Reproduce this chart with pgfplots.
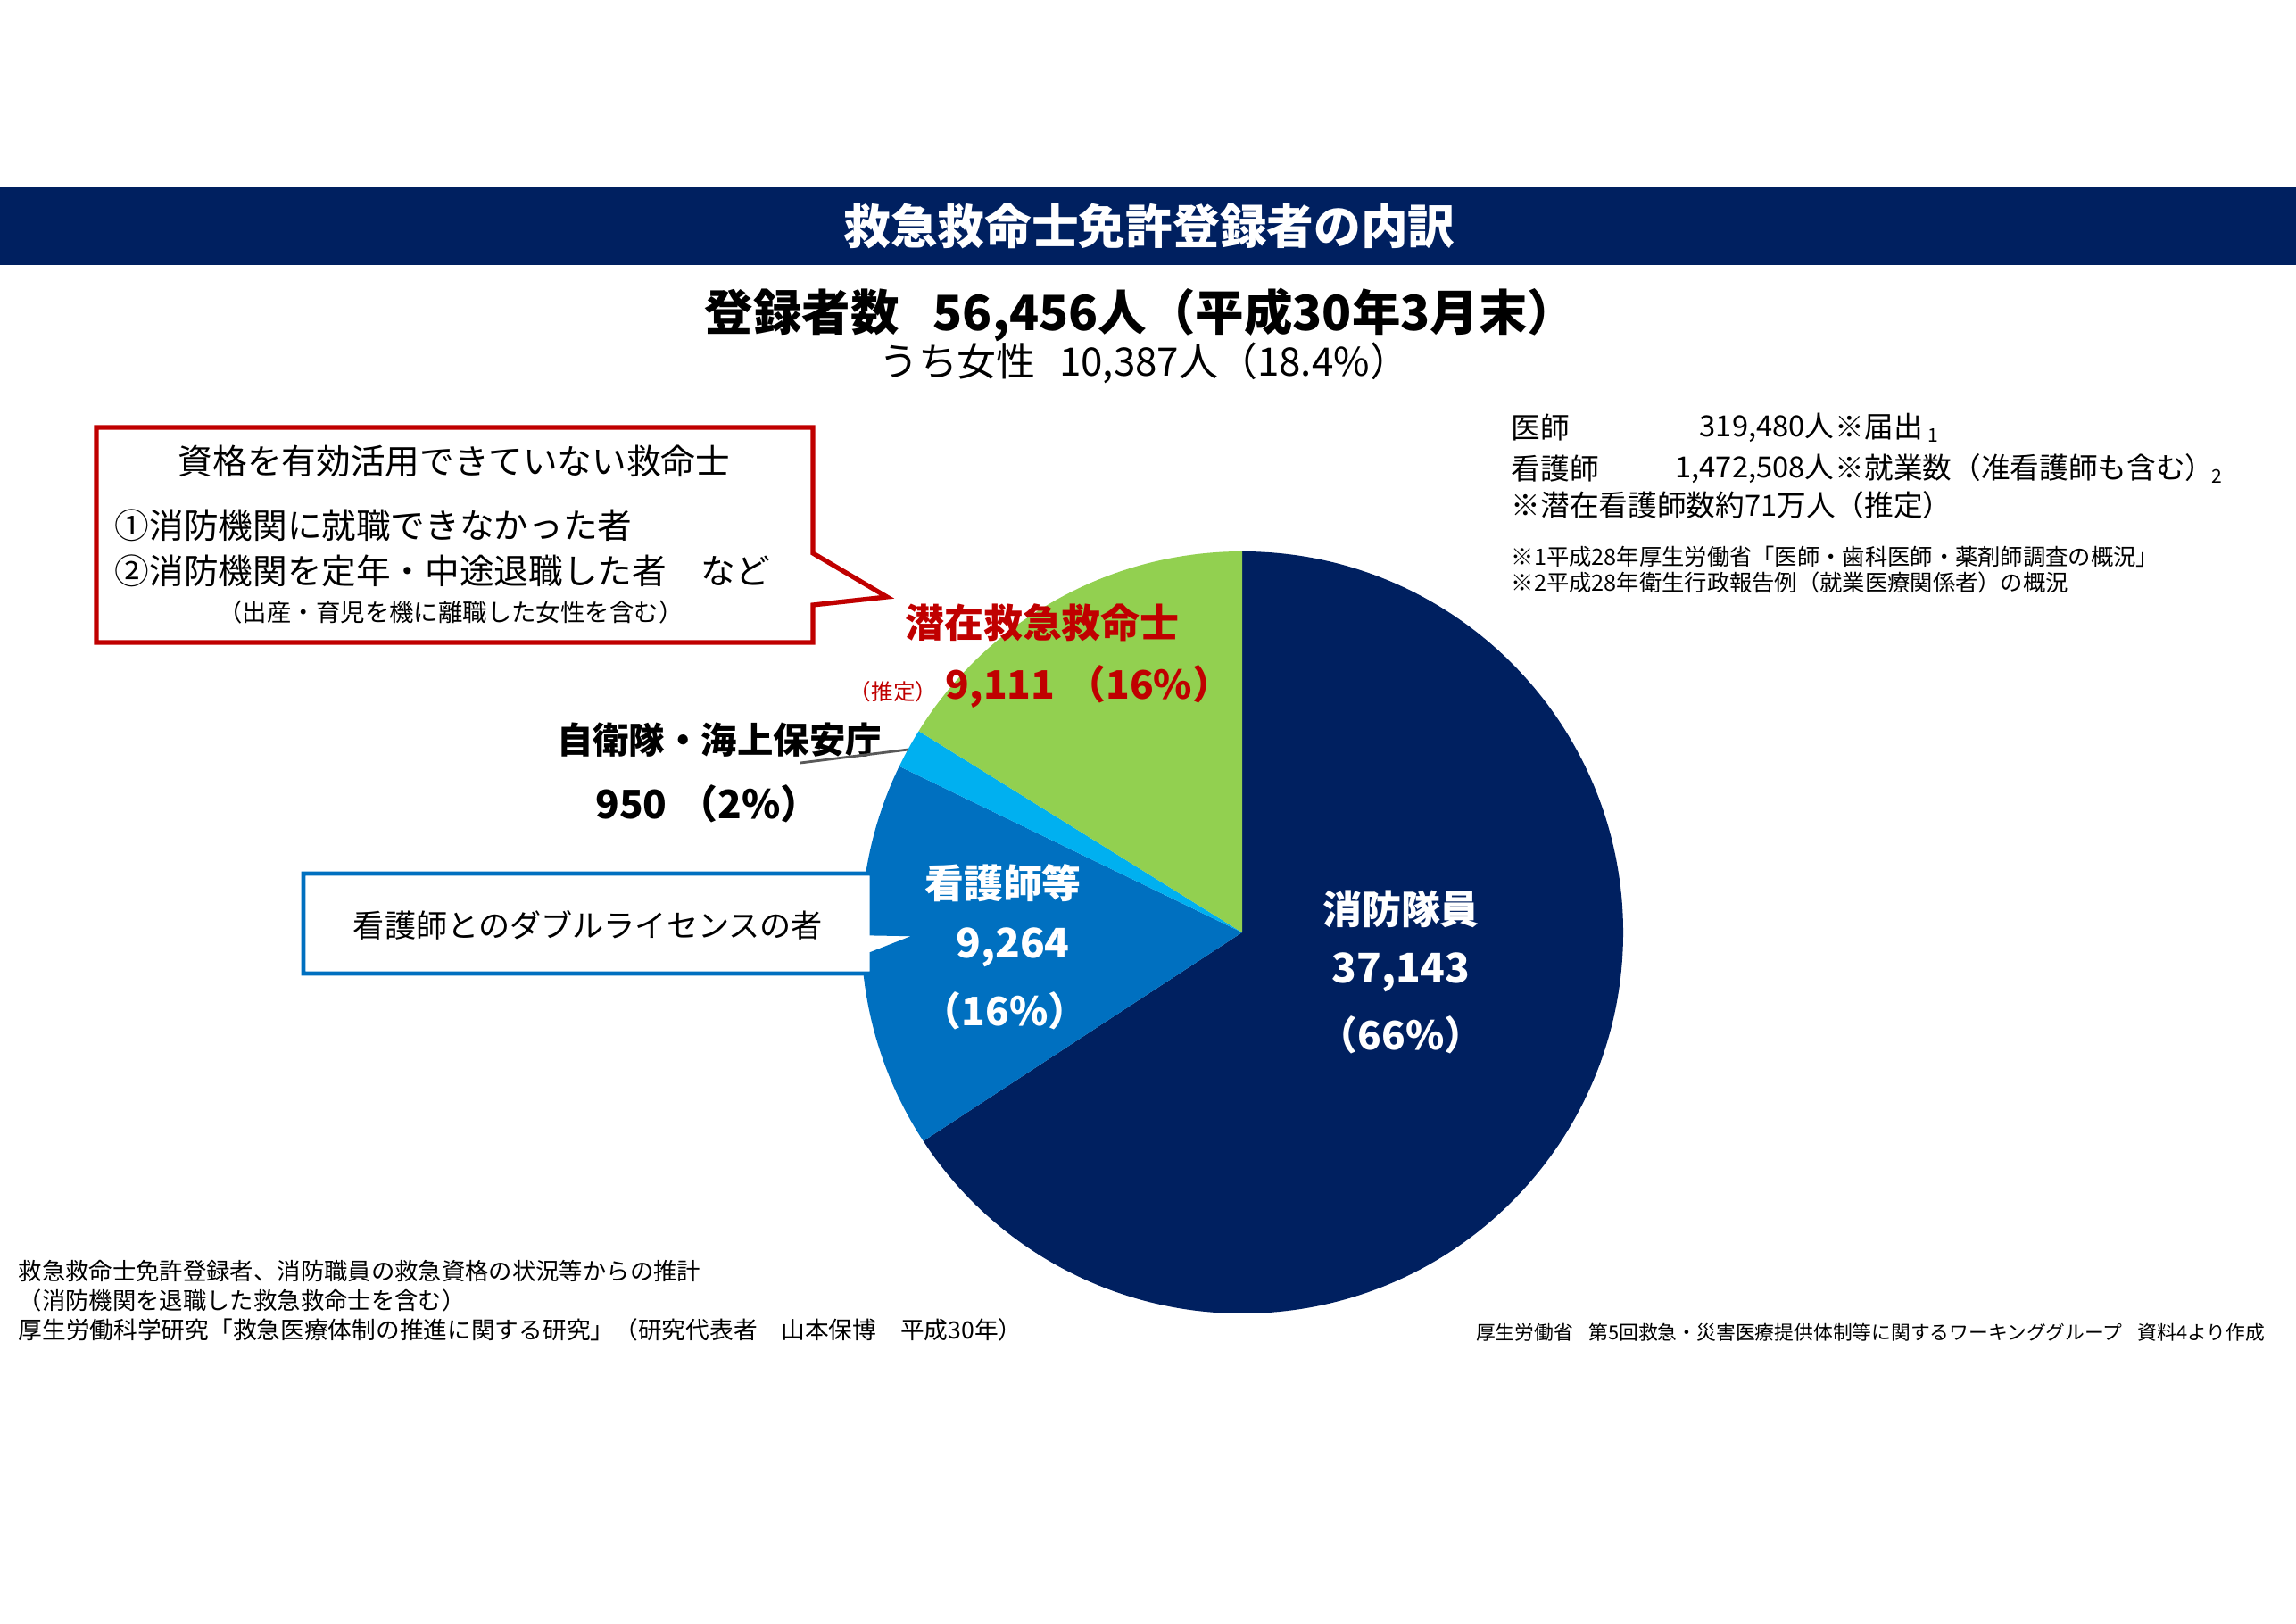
\documentclass[border=0pt]{standalone}
\usepackage{pgfplots}
\pgfplotsset{compat=1.18}
\usepackage{pgfplotstable}
\usepackage{fontspec}
\setmainfont{Noto Sans CJK JP}
\definecolor{navy}{HTML}{002060}
\definecolor{mblue}{HTML}{0070C0}
\definecolor{lblue}{HTML}{00B0F0}
\definecolor{lgreen}{HTML}{92D050}
\definecolor{dred}{HTML}{C00000}
\definecolor{lgray}{HTML}{595959}
\newcommand{\fs}[1]{\fontsize{#1pt}{#1pt}\selectfont}
\newcommand{\subn}[1]{{\fs{6}\raisebox{-0.45ex}{#1}}}
\pgfplotstableread{
label value
shobo 37143
kango 9264
jiei 950
senzai 9111
}\piedata
\pgfplotstablegetelem{0}{value}\of\piedata \edef\vA{\pgfplotsretval}
\pgfplotstablegetelem{1}{value}\of\piedata \edef\vB{\pgfplotsretval}
\pgfplotstablegetelem{2}{value}\of\piedata \edef\vC{\pgfplotsretval}
\pgfplotstablegetelem{3}{value}\of\piedata \edef\vD{\pgfplotsretval}
\edef\tot{\fpeval{\vA+\vB+\vC+\vD}}
\edef\aA{90}
\edef\aB{\fpeval{90-360*(\vA)/\tot}}
\edef\aC{\fpeval{90-360*(\vA+\vB)/\tot}}
\edef\aD{\fpeval{90-360*(\vA+\vB+\vC)/\tot}}
\edef\aE{\fpeval{90-360}}
\def\cx{13.92}\def\cy{7.74}\def\rr{4.27}
\begin{document}%
\begin{tikzpicture}
\begin{axis}[name=ax,x=1cm,y=1cm,xmin=0,xmax=25.73,ymin=0,ymax=18.19,
  hide axis,clip=false,enlargelimits=false]
\coordinate (LL) at (0,0);
\coordinate (UR) at (25.73,18.19);
\fill[white] (0,0) rectangle (25.73,18.19);
% title band
\fill[navy] (0,15.22) rectangle (25.73,16.09);
\node[inner sep=0,text=white,font=\fs{15}\bfseries] at (12.88,15.65) {救急救命士免許登録者の内訳};
\node[inner sep=0,font=\fs{15.5}\bfseries] at (12.78,14.66) {登録者数\hspace{0.7em}56,456人（平成30年3月末）};
\node[inner sep=0,font=\fs{12.5}] at (12.82,14.12) {うち女性\hspace{0.6em}10,387人（18.4\%）};
% top right block
\node[inner sep=0,anchor=west,font=\fs{9.3}] at (16.93,13.40) {医師};
\node[inner sep=0,anchor=east,font=\fs{9.3}] at (20.56,13.40) {319,480人};
\node[inner sep=0,anchor=west,font=\fs{9.3}] at (20.56,13.40) {※届出\,\subn{1}};
\node[inner sep=0,anchor=west,font=\fs{9.3}] at (16.93,12.94) {看護師};
\node[inner sep=0,anchor=east,font=\fs{9.3}] at (20.56,12.94) {1,472,508人};
\node[inner sep=0,anchor=west,font=\fs{9.3}] at (20.56,12.94) {※就業数（准看護師も含む）\hspace{-0.1em}\subn{2}};
\node[inner sep=0,anchor=west,font=\fs{9.3}] at (16.93,12.53) {※潜在看護師数約71万人（推定）};
\node[inner sep=0,anchor=west,font=\fs{7.2}] at (16.93,11.95) {※1平成28年厚生労働省「医師・歯科医師・薬剤師調査の概況」};
\node[inner sep=0,anchor=west,font=\fs{7.2}] at (16.93,11.66) {※2平成28年衛生行政報告例（就業医療関係者）の概況};
% pie
\fill[navy] (\cx,\cy) -- ({\cx+\rr*cos(\aA)},{\cy+\rr*sin(\aA)}) arc[start angle=\aA,end angle=\aB,radius=\rr] -- cycle;
\fill[mblue] (\cx,\cy) -- ({\cx+\rr*cos(\aB)},{\cy+\rr*sin(\aB)}) arc[start angle=\aB,end angle=\aC,radius=\rr] -- cycle;
\fill[lblue] (\cx,\cy) -- ({\cx+\rr*cos(\aC)},{\cy+\rr*sin(\aC)}) arc[start angle=\aC,end angle=\aD,radius=\rr] -- cycle;
\fill[lgreen] (\cx,\cy) -- ({\cx+\rr*cos(\aD)},{\cy+\rr*sin(\aD)}) arc[start angle=\aD,end angle=\aE,radius=\rr] -- cycle;
% pie labels
\node[inner sep=0,text=white,font=\fs{12.5}\bfseries] at (15.70,8.00) {消防隊員};
\node[inner sep=0,text=white,font=\fs{13}\bfseries] at (15.70,7.29) {37,143};
\node[inner sep=0,text=white,font=\fs{12.5}\bfseries] at (15.70,6.59) {（66\%）};
\node[inner sep=0,text=white,font=\fs{12.5}\bfseries] at (11.24,8.29) {看護師等};
\node[inner sep=0,text=white,font=\fs{13}\bfseries] at (11.35,7.57) {9,264};
\node[inner sep=0,text=white,font=\fs{12.5}\bfseries] at (11.26,6.86) {（16\%）};
\node[inner sep=0,text=dred,font=\fs{12.5}\bfseries] at (11.68,11.21) {潜在救急救命士};
\node[inner sep=0,text=dred,font=\fs{7}] at (10.01,10.44) {（推定）};
\node[inner sep=0,text=dred,font=\fs{12.5}\bfseries] at (12.20,10.49) {9,111\hspace{0.3em}（16\%）};
\node[inner sep=0,font=\fs{11.5}\bfseries] at (8.06,9.90) {自衛隊・海上保安庁};
\node[inner sep=0,font=\fs{12.5}\bfseries] at (7.93,9.18) {950\hspace{0.3em}（2\%）};
\draw[lgray,line width=0.8pt] (8.97,9.64) -- (10.18,9.79);
% red callout
\draw[dred,line width=1.5pt,fill=white,line join=miter] (1.08,13.40) -- (9.11,13.40) -- (9.11,11.99) -- (9.94,11.50) -- (9.11,11.41) -- (9.11,10.99) -- (1.08,10.99) -- cycle;
\node[inner sep=0,font=\fs{11}] at (5.09,13.02) {資格を有効活用できていない救命士};
\node[inner sep=0,anchor=west,font=\fs{11}] at (1.28,12.30) {①消防機関に就職できなかった者};
\node[inner sep=0,anchor=west,font=\fs{11}] at (1.28,11.79) {②消防機関を定年・中途退職した者\hspace{1em}など};
\node[inner sep=0,font=\fs{7.8}] at (5.05,11.33) {（出産・育児を機に離職した女性を含む）};
% blue callout
\draw[mblue,line width=1.4pt,fill=white,line join=miter] (3.40,8.40) -- (9.77,8.40) -- (9.77,7.73) -- (10.33,7.72) -- (9.77,7.50) -- (9.77,7.28) -- (3.40,7.28) -- cycle;
\node[inner sep=0,font=\fs{10}] at (6.59,7.82) {看護師とのダブルライセンスの者};
% footers
\node[inner sep=0,anchor=west,font=\fs{7.5}] at (0.20,3.95) {救急救命士免許登録者、消防職員の救急資格の状況等からの推計};
\node[inner sep=0,anchor=west,font=\fs{7.5}] at (0.20,3.62) {（消防機関を退職した救急救命士を含む）};
\node[inner sep=0,anchor=west,font=\fs{7.6}] at (0.20,3.29) {厚生労働科学研究「救急医療体制の推進に関する研究」（研究代表者\hspace{1em}山本保博\hspace{1em}平成30年）};
\node[inner sep=0,anchor=east,font=\fs{6.2}] at (25.39,3.26) {厚生労働省\hspace{0.8em}第5回救急・災害医療提供体制等に関するワーキンググループ\hspace{0.8em}資料4より作成};
\end{axis}
\pgfresetboundingbox
\path[use as bounding box] (LL) rectangle (UR);
\end{tikzpicture}%
\end{document}
